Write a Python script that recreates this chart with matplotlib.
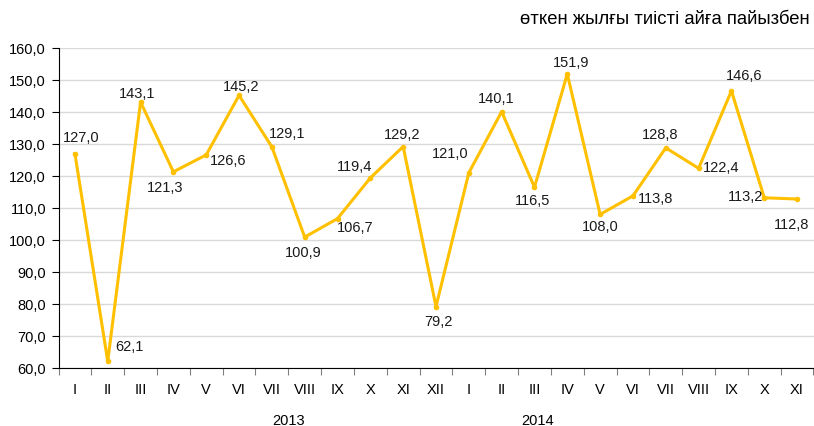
import numpy as np
import matplotlib.pyplot as plt

# -------------------------------------------------
# DATA
# -------------------------------------------------
months = ["I", "II", "III", "IV", "V", "VI", "VII", "VIII", "IX", "X", "XI", "XII",
          "I", "II", "III", "IV", "V", "VI", "VII", "VIII", "IX", "X", "XI"]
values = [127.0, 62.1, 143.1, 121.3, 126.6, 145.2, 129.1, 100.9, 106.7, 119.4, 129.2, 79.2,
          121.0, 140.1, 116.5, 151.9, 108.0, 113.8, 128.8, 122.4, 146.6, 113.2, 112.8]
years = ["2013", "2014"]
year_pos = [6.5, 14.1]

# label offsets in pixels (dx, dy)
label_offsets = [(6, 17), (22, 15), (-3, 9), (-8, -15), (22, -5), (2, 9), (15, 14),
                 (-1, -15), (18, -8), (-16, 12), (-1, 13), (2, -14),
                 (-19, 20), (-5, 14), (-2, -13), (4, 12), (0, -12), (23, -2), (-6, 14),
                 (23, 1), (13, 16), (-19, 2), (-6, -25)]

plt.rcParams.update({
    "font.family": ["Liberation Sans", "DejaVu Sans"],
    "font.size": 10.5,
})

fig = plt.figure(figsize=(8.14, 4.27), dpi=100)
ax = fig.add_axes([58.5 / 814, 1 - 369 / 427, (813.5 - 58.5) / 814, (369 - 49) / 427])

x = np.arange(len(values))
ax.plot(x, values, color="#FFC000", linewidth=2.2, marker="o", markersize=3, zorder=3)

for xi, v, (dx, dy) in zip(x, values, label_offsets):
    ax.annotate(f"{v:.1f}".replace(".", ","), (xi, v), xytext=(dx, dy),
                textcoords="offset pixels", ha="center", va="center",
                fontsize=10.5, color="#1a1a1a")

ax.set_xlim(-0.5, len(values) - 0.5)
ax.set_ylim(60, 160)
ax.set_yticks(np.arange(60, 161, 10))
ax.set_yticklabels([f"{t:.1f}".replace(".", ",") for t in np.arange(60, 161, 10)])
ax.grid(axis="y", color="#d9d9d9", linewidth=1)
ax.set_axisbelow(True)

# category boundary ticks, month names centred between them
ax.set_xticks(np.arange(-0.5, len(values), 1))
ax.set_xticklabels([])
ax.set_xticks(x, minor=True)
ax.set_xticklabels(months, minor=True)
ax.tick_params(axis="x", which="major", direction="out", length=5, color="#808080")
ax.tick_params(axis="x", which="minor", length=0, pad=10)
ax.tick_params(axis="y", length=5, direction="out", pad=4)

for s in ["top", "right"]:
    ax.spines[s].set_visible(False)
ax.spines["left"].set_color("black")
ax.spines["bottom"].set_color("black")

for yr, pos in zip(years, year_pos):
    ax.text(pos, -0.163, yr, transform=ax.get_xaxis_transform(), ha="center", va="center",
            fontsize=10.5)

fig.text(810 / 814, 1 - 20 / 427, "өткен жылғы тиісті айға пайызбен",
         ha="right", va="center", fontsize=13.3)

fig.savefig("out.png", dpi=100)
